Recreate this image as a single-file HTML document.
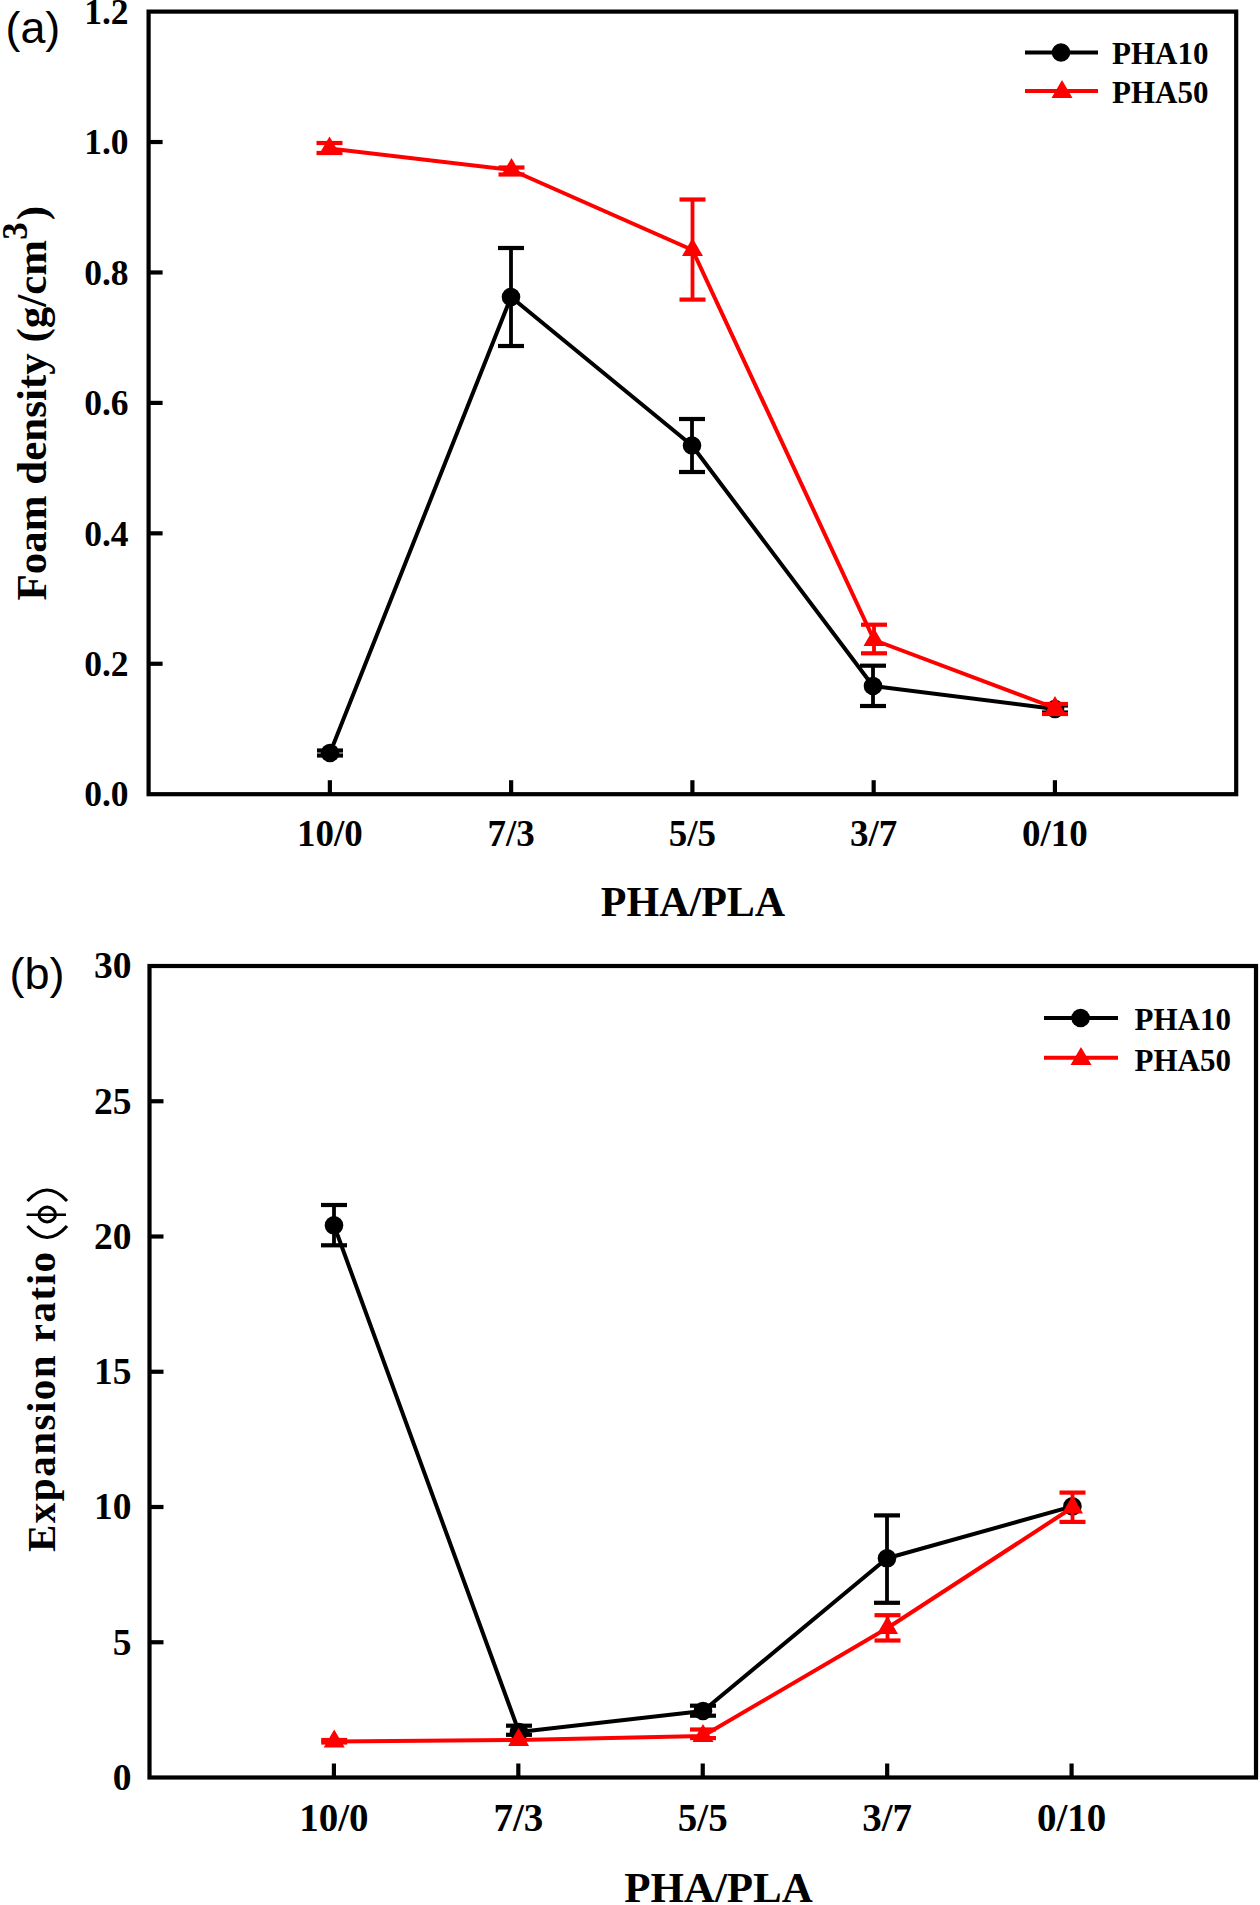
<!DOCTYPE html>
<html><head><meta charset="utf-8"><title>PHA/PLA foam density and expansion ratio</title>
<style>
html,body{margin:0;padding:0;background:#fff;}
body{width:1260px;height:1905px;overflow:hidden;}
svg{display:block;}
</style></head>
<body>
<svg width="1260" height="1905" viewBox="0 0 1260 1905">
<rect x="0" y="0" width="1260" height="1905" fill="#fff"/>
<rect x="148.6" y="11.6" width="1087.6" height="782.6" fill="none" stroke="#000" stroke-width="4.2"/>
<line x1="148.6" y1="663.77" x2="162.6" y2="663.77" stroke="#000" stroke-width="4.2"/>
<line x1="148.6" y1="533.33" x2="162.6" y2="533.33" stroke="#000" stroke-width="4.2"/>
<line x1="148.6" y1="402.9" x2="162.6" y2="402.9" stroke="#000" stroke-width="4.2"/>
<line x1="148.6" y1="272.47" x2="162.6" y2="272.47" stroke="#000" stroke-width="4.2"/>
<line x1="148.6" y1="142.03" x2="162.6" y2="142.03" stroke="#000" stroke-width="4.2"/>
<line x1="329.87" y1="794.2" x2="329.87" y2="780.2" stroke="#000" stroke-width="4.2"/>
<line x1="511.13" y1="794.2" x2="511.13" y2="780.2" stroke="#000" stroke-width="4.2"/>
<line x1="692.4" y1="794.2" x2="692.4" y2="780.2" stroke="#000" stroke-width="4.2"/>
<line x1="873.67" y1="794.2" x2="873.67" y2="780.2" stroke="#000" stroke-width="4.2"/>
<line x1="1054.93" y1="794.2" x2="1054.93" y2="780.2" stroke="#000" stroke-width="4.2"/>
<text x="128.6" y="806.4" font-family='"Liberation Serif", serif' font-size="35.5" font-weight="bold" text-anchor="end" >0.0</text>
<text x="128.6" y="675.97" font-family='"Liberation Serif", serif' font-size="35.5" font-weight="bold" text-anchor="end" >0.2</text>
<text x="128.6" y="545.53" font-family='"Liberation Serif", serif' font-size="35.5" font-weight="bold" text-anchor="end" >0.4</text>
<text x="128.6" y="415.1" font-family='"Liberation Serif", serif' font-size="35.5" font-weight="bold" text-anchor="end" >0.6</text>
<text x="128.6" y="284.67" font-family='"Liberation Serif", serif' font-size="35.5" font-weight="bold" text-anchor="end" >0.8</text>
<text x="128.6" y="154.23" font-family='"Liberation Serif", serif' font-size="35.5" font-weight="bold" text-anchor="end" >1.0</text>
<text x="128.6" y="23.8" font-family='"Liberation Serif", serif' font-size="35.5" font-weight="bold" text-anchor="end" >1.2</text>
<text x="329.87" y="845.5" font-family='"Liberation Serif", serif' font-size="37" font-weight="bold" text-anchor="middle" >10/0</text>
<text x="511.13" y="845.5" font-family='"Liberation Serif", serif' font-size="37" font-weight="bold" text-anchor="middle" >7/3</text>
<text x="692.4" y="845.5" font-family='"Liberation Serif", serif' font-size="37" font-weight="bold" text-anchor="middle" >5/5</text>
<text x="873.67" y="845.5" font-family='"Liberation Serif", serif' font-size="37" font-weight="bold" text-anchor="middle" >3/7</text>
<text x="1054.93" y="845.5" font-family='"Liberation Serif", serif' font-size="37" font-weight="bold" text-anchor="middle" >0/10</text>
<text x="693" y="915.5" font-family='"Liberation Serif", serif' font-size="42" font-weight="bold" text-anchor="middle" >PHA/PLA</text>
<text x="0" y="0" font-family='"Liberation Serif", serif' font-size="43" font-weight="bold" text-anchor="start" transform="translate(46.3,600.5) rotate(-90)">Foam density (g/cm<tspan dy="-19.5" font-size="35">3</tspan><tspan dy="19.5" dx="2">)</tspan></text>
<text x="5.5" y="42.5" font-family='"Liberation Sans", sans-serif' font-size="44.8" font-weight="normal" text-anchor="start" >(a)</text>
<polyline points="330,753 511,297 692,445.5 873,686 1055,709" fill="none" stroke="#000" stroke-width="4" stroke-linejoin="round"/>
<line x1="330" y1="750.5" x2="330" y2="755.5" stroke="#000" stroke-width="3.8"/>
<line x1="317.0" y1="750.5" x2="343.0" y2="750.5" stroke="#000" stroke-width="4.2"/>
<line x1="317.0" y1="755.5" x2="343.0" y2="755.5" stroke="#000" stroke-width="4.2"/>
<circle cx="330" cy="753" r="9.3" fill="#000"/>
<line x1="511" y1="248" x2="511" y2="346" stroke="#000" stroke-width="3.8"/>
<line x1="498.0" y1="248" x2="524.0" y2="248" stroke="#000" stroke-width="4.2"/>
<line x1="498.0" y1="346" x2="524.0" y2="346" stroke="#000" stroke-width="4.2"/>
<circle cx="511" cy="297" r="9.3" fill="#000"/>
<line x1="692" y1="419" x2="692" y2="472" stroke="#000" stroke-width="3.8"/>
<line x1="679.0" y1="419" x2="705.0" y2="419" stroke="#000" stroke-width="4.2"/>
<line x1="679.0" y1="472" x2="705.0" y2="472" stroke="#000" stroke-width="4.2"/>
<circle cx="692" cy="445.5" r="9.3" fill="#000"/>
<line x1="873" y1="665.7" x2="873" y2="706" stroke="#000" stroke-width="3.8"/>
<line x1="860.0" y1="665.7" x2="886.0" y2="665.7" stroke="#000" stroke-width="4.2"/>
<line x1="860.0" y1="706" x2="886.0" y2="706" stroke="#000" stroke-width="4.2"/>
<circle cx="873" cy="686" r="9.3" fill="#000"/>
<line x1="1055" y1="705.5" x2="1055" y2="712.5" stroke="#000" stroke-width="3.8"/>
<line x1="1042.0" y1="705.5" x2="1068.0" y2="705.5" stroke="#000" stroke-width="4.2"/>
<line x1="1042.0" y1="712.5" x2="1068.0" y2="712.5" stroke="#000" stroke-width="4.2"/>
<circle cx="1055" cy="709" r="9.3" fill="#000"/>
<polyline points="329.5,148.5 511.5,170 692.5,250 874,640 1055,708" fill="none" stroke="#f00" stroke-width="4" stroke-linejoin="round"/>
<line x1="329.5" y1="143" x2="329.5" y2="153" stroke="#f00" stroke-width="3.8"/>
<line x1="316.5" y1="143" x2="342.5" y2="143" stroke="#f00" stroke-width="4.2"/>
<line x1="316.5" y1="153" x2="342.5" y2="153" stroke="#f00" stroke-width="4.2"/>
<polygon points="329.5,136.38 340.0,154.56 319.0,154.56" fill="#f00"/>
<line x1="511.5" y1="167.5" x2="511.5" y2="174.5" stroke="#f00" stroke-width="3.8"/>
<line x1="498.5" y1="167.5" x2="524.5" y2="167.5" stroke="#f00" stroke-width="4.2"/>
<line x1="498.5" y1="174.5" x2="524.5" y2="174.5" stroke="#f00" stroke-width="4.2"/>
<polygon points="511.5,157.88 522.0,176.06 501.0,176.06" fill="#f00"/>
<line x1="692.5" y1="199.5" x2="692.5" y2="299.6" stroke="#f00" stroke-width="3.8"/>
<line x1="679.5" y1="199.5" x2="705.5" y2="199.5" stroke="#f00" stroke-width="4.2"/>
<line x1="679.5" y1="299.6" x2="705.5" y2="299.6" stroke="#f00" stroke-width="4.2"/>
<polygon points="692.5,237.88 703.0,256.06 682.0,256.06" fill="#f00"/>
<line x1="874" y1="624.7" x2="874" y2="653.3" stroke="#f00" stroke-width="3.8"/>
<line x1="861.0" y1="624.7" x2="887.0" y2="624.7" stroke="#f00" stroke-width="4.2"/>
<line x1="861.0" y1="653.3" x2="887.0" y2="653.3" stroke="#f00" stroke-width="4.2"/>
<polygon points="874,627.88 884.5,646.06 863.5,646.06" fill="#f00"/>
<line x1="1055" y1="704" x2="1055" y2="714" stroke="#f00" stroke-width="3.8"/>
<line x1="1042.0" y1="704" x2="1068.0" y2="704" stroke="#f00" stroke-width="4.2"/>
<line x1="1042.0" y1="714" x2="1068.0" y2="714" stroke="#f00" stroke-width="4.2"/>
<polygon points="1055,695.88 1065.5,714.06 1044.5,714.06" fill="#f00"/>
<line x1="1025" y1="52.5" x2="1098" y2="52.5" stroke="#000" stroke-width="4"/>
<circle cx="1061" cy="52.5" r="9.3" fill="#000"/>
<line x1="1025" y1="91" x2="1098" y2="91" stroke="#f00" stroke-width="4"/>
<polygon points="1062,79.88 1072.5,98.06 1051.5,98.06" fill="#f00"/>
<text x="1112" y="64" font-family='"Liberation Serif", serif' font-size="31" font-weight="bold" text-anchor="start" >PHA10</text>
<text x="1112" y="102.5" font-family='"Liberation Serif", serif' font-size="31" font-weight="bold" text-anchor="start" >PHA50</text>
<rect x="149.5" y="966" width="1106.5" height="811.5" fill="none" stroke="#000" stroke-width="4.2"/>
<line x1="149.5" y1="1642.25" x2="163.5" y2="1642.25" stroke="#000" stroke-width="4.2"/>
<line x1="149.5" y1="1507.0" x2="163.5" y2="1507.0" stroke="#000" stroke-width="4.2"/>
<line x1="149.5" y1="1371.75" x2="163.5" y2="1371.75" stroke="#000" stroke-width="4.2"/>
<line x1="149.5" y1="1236.5" x2="163.5" y2="1236.5" stroke="#000" stroke-width="4.2"/>
<line x1="149.5" y1="1101.25" x2="163.5" y2="1101.25" stroke="#000" stroke-width="4.2"/>
<line x1="333.92" y1="1777.5" x2="333.92" y2="1763.5" stroke="#000" stroke-width="4.2"/>
<line x1="518.33" y1="1777.5" x2="518.33" y2="1763.5" stroke="#000" stroke-width="4.2"/>
<line x1="702.75" y1="1777.5" x2="702.75" y2="1763.5" stroke="#000" stroke-width="4.2"/>
<line x1="887.17" y1="1777.5" x2="887.17" y2="1763.5" stroke="#000" stroke-width="4.2"/>
<line x1="1071.58" y1="1777.5" x2="1071.58" y2="1763.5" stroke="#000" stroke-width="4.2"/>
<text x="131.6" y="1789.8" font-family='"Liberation Serif", serif' font-size="37.5" font-weight="bold" text-anchor="end" >0</text>
<text x="131.6" y="1654.55" font-family='"Liberation Serif", serif' font-size="37.5" font-weight="bold" text-anchor="end" >5</text>
<text x="131.6" y="1519.3" font-family='"Liberation Serif", serif' font-size="37.5" font-weight="bold" text-anchor="end" >10</text>
<text x="131.6" y="1384.05" font-family='"Liberation Serif", serif' font-size="37.5" font-weight="bold" text-anchor="end" >15</text>
<text x="131.6" y="1248.8" font-family='"Liberation Serif", serif' font-size="37.5" font-weight="bold" text-anchor="end" >20</text>
<text x="131.6" y="1113.55" font-family='"Liberation Serif", serif' font-size="37.5" font-weight="bold" text-anchor="end" >25</text>
<text x="131.6" y="978.3" font-family='"Liberation Serif", serif' font-size="37.5" font-weight="bold" text-anchor="end" >30</text>
<text x="333.92" y="1830.5" font-family='"Liberation Serif", serif' font-size="39" font-weight="bold" text-anchor="middle" >10/0</text>
<text x="518.33" y="1830.5" font-family='"Liberation Serif", serif' font-size="39" font-weight="bold" text-anchor="middle" >7/3</text>
<text x="702.75" y="1830.5" font-family='"Liberation Serif", serif' font-size="39" font-weight="bold" text-anchor="middle" >5/5</text>
<text x="887.17" y="1830.5" font-family='"Liberation Serif", serif' font-size="39" font-weight="bold" text-anchor="middle" >3/7</text>
<text x="1071.58" y="1830.5" font-family='"Liberation Serif", serif' font-size="39" font-weight="bold" text-anchor="middle" >0/10</text>
<text x="718.5" y="1902" font-family='"Liberation Serif", serif' font-size="43" font-weight="bold" text-anchor="middle" >PHA/PLA</text>
<text x="0" y="0" font-family='"Liberation Serif", serif' font-size="41" font-weight="bold" text-anchor="start" letter-spacing="1.5" transform="translate(55,1552) rotate(-90)">Expansion ratio</text>
<path d="M27.5,1201 Q47,1179 67,1201" fill="none" stroke="#000" stroke-width="3.2"/>
<path d="M27.5,1226 Q47,1249 67,1226" fill="none" stroke="#000" stroke-width="3.2"/>
<ellipse cx="47.2" cy="1214.5" rx="8.3" ry="7.4" fill="none" stroke="#000" stroke-width="3"/>
<line x1="26.5" y1="1214.8" x2="66" y2="1214.8" stroke="#000" stroke-width="2.4"/>
<text x="9.5" y="988.5" font-family='"Liberation Sans", sans-serif' font-size="45" font-weight="normal" text-anchor="start" >(b)</text>
<polyline points="334,1225.3 519,1732 703,1711 887,1558.3 1072.4,1506.4" fill="none" stroke="#000" stroke-width="4" stroke-linejoin="round"/>
<line x1="334" y1="1205" x2="334" y2="1245.3" stroke="#000" stroke-width="3.8"/>
<line x1="321.0" y1="1205" x2="347.0" y2="1205" stroke="#000" stroke-width="4.2"/>
<line x1="321.0" y1="1245.3" x2="347.0" y2="1245.3" stroke="#000" stroke-width="4.2"/>
<circle cx="334" cy="1225.3" r="9.3" fill="#000"/>
<line x1="519" y1="1725.7" x2="519" y2="1734.8" stroke="#000" stroke-width="3.8"/>
<line x1="506.0" y1="1725.7" x2="532.0" y2="1725.7" stroke="#000" stroke-width="4.2"/>
<line x1="506.0" y1="1734.8" x2="532.0" y2="1734.8" stroke="#000" stroke-width="4.2"/>
<circle cx="519" cy="1732" r="9.3" fill="#000"/>
<line x1="703" y1="1705.7" x2="703" y2="1715.7" stroke="#000" stroke-width="3.8"/>
<line x1="690.0" y1="1705.7" x2="716.0" y2="1705.7" stroke="#000" stroke-width="4.2"/>
<line x1="690.0" y1="1715.7" x2="716.0" y2="1715.7" stroke="#000" stroke-width="4.2"/>
<circle cx="703" cy="1711" r="9.3" fill="#000"/>
<line x1="887" y1="1515.4" x2="887" y2="1602.8" stroke="#000" stroke-width="3.8"/>
<line x1="874.0" y1="1515.4" x2="900.0" y2="1515.4" stroke="#000" stroke-width="4.2"/>
<line x1="874.0" y1="1602.8" x2="900.0" y2="1602.8" stroke="#000" stroke-width="4.2"/>
<circle cx="887" cy="1558.3" r="9.3" fill="#000"/>
<circle cx="1072.4" cy="1506.4" r="9.3" fill="#000"/>
<polyline points="334.2,1741.5 518.6,1740 703,1736 887.5,1628 1072.5,1507.5" fill="none" stroke="#f00" stroke-width="4" stroke-linejoin="round"/>
<line x1="334.2" y1="1740" x2="334.2" y2="1742.5" stroke="#f00" stroke-width="3.8"/>
<line x1="321.2" y1="1740" x2="347.2" y2="1740" stroke="#f00" stroke-width="4.2"/>
<line x1="321.2" y1="1742.5" x2="347.2" y2="1742.5" stroke="#f00" stroke-width="4.2"/>
<polygon points="334.2,1729.38 344.7,1747.56 323.7,1747.56" fill="#f00"/>
<polygon points="518.6,1727.88 529.1,1746.06 508.1,1746.06" fill="#f00"/>
<line x1="703" y1="1729.5" x2="703" y2="1738.1" stroke="#f00" stroke-width="3.8"/>
<line x1="690.0" y1="1729.5" x2="716.0" y2="1729.5" stroke="#f00" stroke-width="4.2"/>
<line x1="690.0" y1="1738.1" x2="716.0" y2="1738.1" stroke="#f00" stroke-width="4.2"/>
<polygon points="703,1723.88 713.5,1742.06 692.5,1742.06" fill="#f00"/>
<line x1="887.5" y1="1615.2" x2="887.5" y2="1640.5" stroke="#f00" stroke-width="3.8"/>
<line x1="874.5" y1="1615.2" x2="900.5" y2="1615.2" stroke="#f00" stroke-width="4.2"/>
<line x1="874.5" y1="1640.5" x2="900.5" y2="1640.5" stroke="#f00" stroke-width="4.2"/>
<polygon points="887.5,1615.88 898.0,1634.06 877.0,1634.06" fill="#f00"/>
<line x1="1072.5" y1="1492.6" x2="1072.5" y2="1521.9" stroke="#f00" stroke-width="3.8"/>
<line x1="1059.5" y1="1492.6" x2="1085.5" y2="1492.6" stroke="#f00" stroke-width="4.2"/>
<line x1="1059.5" y1="1521.9" x2="1085.5" y2="1521.9" stroke="#f00" stroke-width="4.2"/>
<polygon points="1072.5,1495.38 1083.0,1513.56 1062.0,1513.56" fill="#f00"/>
<line x1="1044" y1="1018" x2="1118" y2="1018" stroke="#000" stroke-width="4"/>
<circle cx="1080.6" cy="1018" r="9.3" fill="#000"/>
<line x1="1044" y1="1057.7" x2="1118" y2="1057.7" stroke="#f00" stroke-width="4"/>
<polygon points="1081,1046.88 1091.5,1065.06 1070.5,1065.06" fill="#f00"/>
<text x="1134.5" y="1030.2" font-family='"Liberation Serif", serif' font-size="31" font-weight="bold" text-anchor="start" >PHA10</text>
<text x="1134.5" y="1071" font-family='"Liberation Serif", serif' font-size="31" font-weight="bold" text-anchor="start" >PHA50</text>
</svg>
</body></html>
